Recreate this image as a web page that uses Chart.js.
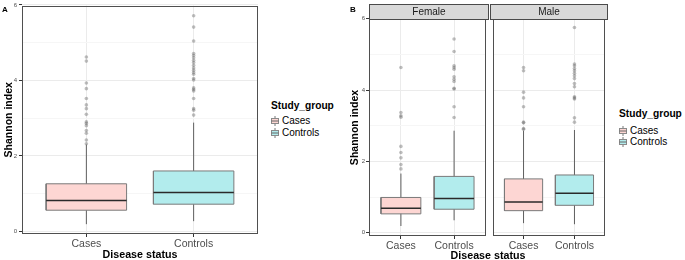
<!DOCTYPE html>
<html><head><meta charset="utf-8">
<script src="https://cdn.jsdelivr.net/npm/chart.js@4.4.0/dist/chart.umd.min.js"></script>
<style>
html,body{margin:0;padding:0;background:#fff;width:685px;height:260px;overflow:hidden;font-family:"Liberation Sans",Arial,sans-serif;}
canvas{position:absolute;}
.lbl{position:absolute;font-weight:bold;color:#000;white-space:nowrap;}
.strip{position:absolute;background:#D9D9D9;border:1px solid #4a4a4a;box-sizing:border-box;text-align:center;font-size:10px;line-height:14px;color:#1a1a1a;}
.legt{position:absolute;font-size:10.2px;font-weight:bold;color:#000;white-space:nowrap;line-height:11px;}
.legi{position:absolute;font-size:10px;color:#000;white-space:nowrap;line-height:11px;}
.legi svg{position:absolute;left:-11px;top:1px;}
</style></head><body>
<canvas id="cA" width="262" height="260" style="left:0;top:0"></canvas>
<canvas id="cF" width="152" height="260" style="left:338px;top:0"></canvas>
<canvas id="cM" width="120" height="260" style="left:489px;top:0"></canvas>
<div class="lbl" style="left:2px;top:5px;font-size:8px;">A</div>
<div class="lbl" style="left:350px;top:5px;font-size:8px;">B</div>
<div class="strip" style="left:369px;top:4px;width:120px;height:16px;">Female</div>
<div class="strip" style="left:490px;top:4px;width:118px;height:16px;">Male</div>
<div class="lbl" style="left:388px;top:249px;width:200px;text-align:center;font-size:10.7px;">Disease status</div>
<div id="legends"></div>
<script>
// ---------- data ----------
const categories = ['Cases', 'Controls'];
const groupTitle = 'Study_group';
const yTickValues = [0, 1, 2, 3, 4, 5, 6];
const yTickLabels = ['0', '', '2', '', '4', '', '6'];
const panelB = ['Female', 'Male'];

// Panel A (all subjects)
const allLower  = [0.19, 0.27];
const allQ1     = [0.56, 0.72];
const allMedian = [0.82, 1.03];
const allQ3     = [1.26, 1.60];
const allUpper  = [2.30, 2.88];
const allCasesOut    = [2.32, 2.42, 2.60, 2.67, 2.80, 2.86, 2.90, 3.10, 3.25, 3.35, 3.52, 3.78, 3.93, 4.51, 4.62];
const allControlsOut = [3.08, 3.21, 3.25, 3.52, 3.72, 3.76, 3.80, 4.01, 4.05, 4.16, 4.21, 4.27, 4.33, 4.40, 4.47, 4.53, 4.60, 4.66, 4.71, 5.04, 5.41, 5.71];

// Panel B - Female
const femLower  = [0.19, 0.35];
const femQ1     = [0.53, 0.66];
const femMedian = [0.69, 0.96];
const femQ3     = [0.99, 1.58];
const femUpper  = [1.66, 2.86];
const femCasesOut    = [1.79, 1.91, 2.10, 2.25, 2.42, 3.24, 3.28, 3.37, 4.63];
const femControlsOut = [3.23, 3.53, 4.03, 4.05, 4.24, 4.30, 4.37, 4.58, 4.63, 4.68, 5.08, 5.43];

// Panel B - Male
const maleLower  = [0.27, 0.24];
const maleQ1     = [0.62, 0.77];
const maleMedian = [0.86, 1.11];
const maleQ3     = [1.51, 1.62];
const maleUpper  = [2.86, 2.88];
const maleCasesOut    = [2.90, 2.92, 3.08, 3.10, 3.53, 3.78, 3.94, 4.54, 4.63];
const maleControlsOut = [3.10, 3.22, 3.75, 3.78, 3.81, 4.09, 4.18, 4.32, 4.40, 4.47, 4.54, 4.60, 4.68, 4.73, 5.75];

// ---------- styles ----------
const fillColors = ['#FDD6D3', '#B2ECED'];
const FONT = '"Liberation Sans", Arial, sans-serif';
const HW = 0.375;

function boxDatasets(lo, q1, med, q3, hi, outs) {
  const ds = [];
  categories.forEach((c, i) => {
    const p = i + 1;
    ds.push({ type: 'line', data: [{x: p, y: lo[i]}, {x: p, y: hi[i]}],
      borderColor: '#5e5e5e', borderWidth: 1, pointRadius: 0, fill: false, order: 4 });
    ds.push({ type: 'line', data: [{x: p - HW, y: q1[i]}, {x: p + HW, y: q1[i]}, {x: p + HW, y: q3[i]}, {x: p - HW, y: q3[i]}, {x: p - HW, y: q1[i]}],
      borderColor: '#7a7a7a', borderWidth: 1, backgroundColor: fillColors[i], fill: 'shape', pointRadius: 0, tension: 0, order: 3 });
    ds.push({ type: 'line', data: [{x: p - HW, y: med[i]}, {x: p + HW, y: med[i]}],
      borderColor: '#2a2a2a', borderWidth: 1.5, pointRadius: 0, fill: false, order: 2 });
    ds.push({ type: 'line', showLine: false, data: outs[i].map(v => ({x: p, y: v})),
      pointRadius: 1.8, pointBackgroundColor: 'rgba(100,100,100,0.42)', pointBorderWidth: 0, order: 1 });
  });
  return ds;
}

const framePlugin = {
  id: 'frame',
  afterDatasetsDraw(chart) {
    const {ctx, chartArea: a} = chart;
    ctx.save();
    ctx.strokeStyle = '#4f4f4f';
    ctx.lineWidth = 1;
    ctx.strokeRect(Math.round(a.left) + 0.5, Math.round(a.top) + 0.5, Math.round(a.width) - 1, Math.round(a.height) - 1);
    ctx.restore();
  }
};

function makeChart(id, datasets, cfg) {
  return new Chart(document.getElementById(id), {
    type: 'line',
    data: { datasets },
    plugins: [framePlugin],
    options: {
      responsive: false, animation: false, events: [],
      layout: { padding: cfg.padding },
      plugins: { legend: { display: false }, tooltip: { enabled: false } },
      scales: {
        x: {
          type: 'linear', min: 0.4, max: 2.6,
          afterBuildTicks: s => { s.ticks = categories.map((c, i) => ({ value: i + 1 })); },
          afterFit: s => { s.height = cfg.xHeight; },
          ticks: { autoSkip: false, maxRotation: 0, padding: 1, color: '#4D4D4D',
            font: { family: FONT, size: 10.5 }, callback: (v, i) => categories[i] },
          grid: { color: '#EBEBEB', tickColor: '#333', tickLength: 3, lineWidth: 1 },
          border: { display: false },
          title: cfg.xTitle ? { display: true, text: 'Disease status', color: '#000',
            font: { family: FONT, size: 10.7, weight: 'bold', lineHeight: 1 }, padding: { top: 0, bottom: 0 } } : { display: false }
        },
        y: {
          type: 'linear', min: cfg.yMin, max: cfg.yMax,
          afterBuildTicks: s => { s.ticks = yTickValues.map(v => ({ value: v })); },
          afterFit: s => { s.width = cfg.yWidth; },
          ticks: { display: cfg.yLabels, autoSkip: false, padding: cfg.yPad, color: '#4D4D4D',
            font: { family: FONT, size: 6 }, callback: (v, i) => yTickLabels[i] },
          grid: { color: c => (c.tick && c.tick.value % 2 === 0) ? '#EBEBEB' : '#F6F6F6',
            tickColor: c => (cfg.yLabels && c.tick && c.tick.value % 2 === 0) ? '#333' : 'rgba(0,0,0,0)',
            tickLength: cfg.yLabels ? 3 : 0, drawTicks: cfg.yLabels, lineWidth: 1 },
          border: { display: false },
          title: cfg.yLabels ? { display: true, text: 'Shannon index', color: '#000',
            font: { family: FONT, size: 10.5, weight: 'bold', lineHeight: 1 }, padding: { top: cfg.yTitlePad, bottom: 0 } } : { display: false }
        }
      }
    }
  });
}

makeChart('cA', boxDatasets(allLower, allQ1, allMedian, allQ3, allUpper, [allCasesOut, allControlsOut]),
  { padding: { top: 4, right: 4, left: 0, bottom: 0 }, xHeight: 26, yWidth: 22, yMin: -0.07, yMax: 5.98,
    yLabels: true, yPad: 2, yTitlePad: 4, xTitle: true });
makeChart('cF', boxDatasets(femLower, femQ1, femMedian, femQ3, femUpper, [femCasesOut, femControlsOut]),
  { padding: { top: 19, right: 2, left: 0, bottom: 0 }, xHeight: 24, yWidth: 31, yMin: -0.09, yMax: 5.99,
    yLabels: true, yPad: 1, yTitlePad: 12, xTitle: false });
makeChart('cM', boxDatasets(maleLower, maleQ1, maleMedian, maleQ3, maleUpper, [maleCasesOut, maleControlsOut]),
  { padding: { top: 19, right: 2, left: 2, bottom: 0 }, xHeight: 24, yWidth: 0, yMin: -0.09, yMax: 5.99,
    yLabels: false, yPad: 0, yTitlePad: 0, xTitle: false });

// ---------- legends ----------
function keySvg(fill) {
  return '<svg width="8" height="10" viewBox="0 0 8 10">' +
    '<line x1="4" y1="0" x2="4" y2="10" stroke="#777" stroke-width="1"/>' +
    '<rect x="0.5" y="2.5" width="7" height="5" fill="' + fill + '" stroke="#8a8a8a" stroke-width="1"/>' +
    '<line x1="0.5" y1="5" x2="7.5" y2="5" stroke="#666" stroke-width="1"/></svg>';
}
function addLegend(left, titleTop, itemTops) {
  const host = document.getElementById('legends');
  const t = document.createElement('div');
  t.className = 'legt'; t.style.left = left + 'px'; t.style.top = titleTop + 'px';
  t.textContent = groupTitle; host.appendChild(t);
  categories.forEach((c, i) => {
    const d = document.createElement('div');
    d.className = 'legi'; d.style.left = (left + 11) + 'px'; d.style.top = itemTops[i] + 'px';
    d.innerHTML = keySvg(fillColors[i]) + '<span>' + c + '</span>';
    host.appendChild(d);
  });
}
addLegend(271, 100, [114.5, 126.5]);
addLegend(619, 108, [124.5, 136]);
</script>
</body></html>
